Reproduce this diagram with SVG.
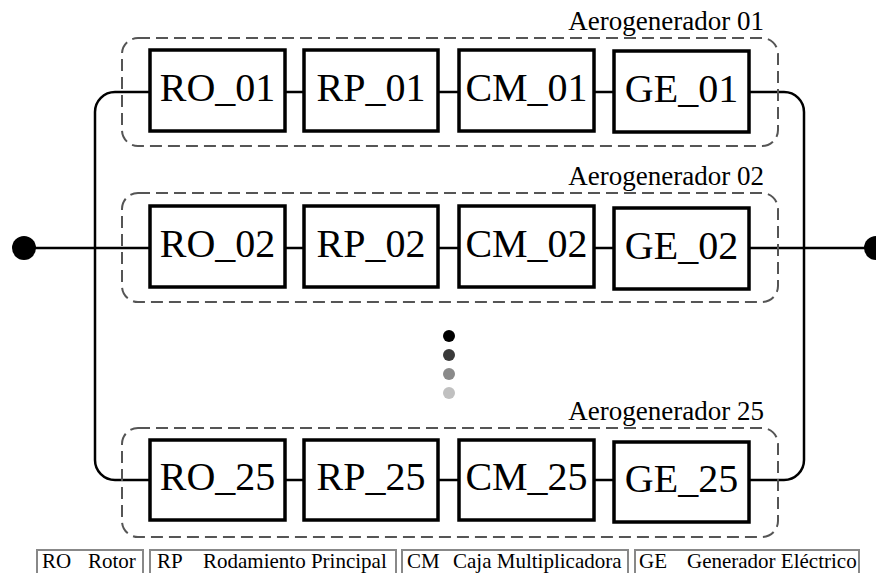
<svg xmlns="http://www.w3.org/2000/svg" width="876" height="573" viewBox="0 0 876 573">
<style>
.frame{fill:none;stroke:#555;stroke-width:2;stroke-dasharray:12 6}
.box{fill:#fff;stroke:#000;stroke-width:3.5}
.bt{font-family:'Liberation Serif','Times New Roman',serif;font-size:40px;text-anchor:middle;fill:#000}
.lab{font-family:'Liberation Serif','Times New Roman',serif;font-size:27px;text-anchor:end;fill:#000}
.wire{fill:none;stroke:#000;stroke-width:2.5}
.leg{fill:#fff;stroke:#888;stroke-width:2}
.lt{font-family:'Liberation Serif','Times New Roman',serif;font-size:21px;fill:#000}
</style>
<rect width="876" height="573" fill="#fff"/>
<g id="connectors">
<path class="wire" d="M24 248H150M749 248H875"/>
<path class="wire" d="M150 92H115A20 20 0 0 0 95 112V460A20 20 0 0 0 115 480H150"/>
<path class="wire" d="M749 92H784A20 20 0 0 1 804 112V460A20 20 0 0 1 784 480H749"/>
<path class="wire" d="M285 92H304M438 92H459M594 92H614M285 248H304M438 248H459M594 248H614M285 480H304M438 480H459M594 480H614"/>
<circle cx="24" cy="248" r="12" fill="#000"/>
<circle cx="876" cy="248" r="12" fill="#000"/>
</g>
<g id="wt01">
<rect class="frame" x="122" y="38" width="656" height="108" rx="16"/>
<text class="lab" x="764" y="30">Aerogenerador 01</text>
<g id="RO_01"><rect class="box" x="150" y="50" width="135" height="81"/><text class="bt" x="217.5" y="101">RO_01</text></g>
<g id="RP_01"><rect class="box" x="304" y="50" width="134" height="81"/><text class="bt" x="371" y="101">RP_01</text></g>
<g id="CM_01"><rect class="box" x="459" y="50" width="135" height="81"/><text class="bt" x="526.5" y="101">CM_01</text></g>
<g id="GE_01"><rect class="box" x="614" y="51" width="135" height="81"/><text class="bt" x="681.5" y="102">GE_01</text></g>
</g>
<g id="wt02">
<rect class="frame" x="122" y="193" width="656" height="109" rx="16"/>
<text class="lab" x="764" y="185">Aerogenerador 02</text>
<g id="RO_02"><rect class="box" x="150" y="206" width="135" height="81"/><text class="bt" x="217.5" y="257">RO_02</text></g>
<g id="RP_02"><rect class="box" x="304" y="206" width="134" height="81"/><text class="bt" x="371" y="257">RP_02</text></g>
<g id="CM_02"><rect class="box" x="459" y="206" width="135" height="81"/><text class="bt" x="526.5" y="257">CM_02</text></g>
<g id="GE_02"><rect class="box" x="614" y="208" width="135" height="81"/><text class="bt" x="681.5" y="259">GE_02</text></g>
</g>
<g id="dots">
<circle cx="449" cy="336" r="6" fill="#000"/>
<circle cx="449" cy="355" r="6" fill="#3a3a3a"/>
<circle cx="449" cy="374" r="6" fill="#8a8a8a"/>
<circle cx="449" cy="393" r="6" fill="#c0c0c0"/>
</g>
<g id="wt25">
<rect class="frame" x="122" y="428" width="656" height="109" rx="16"/>
<text class="lab" x="764" y="420">Aerogenerador 25</text>
<g id="RO_25"><rect class="box" x="150" y="440" width="135" height="80"/><text class="bt" x="217.5" y="490">RO_25</text></g>
<g id="RP_25"><rect class="box" x="304" y="440" width="134" height="80"/><text class="bt" x="371" y="490">RP_25</text></g>
<g id="CM_25"><rect class="box" x="459" y="440" width="135" height="80"/><text class="bt" x="526.5" y="490">CM_25</text></g>
<g id="GE_25"><rect class="box" x="614" y="442" width="135" height="80"/><text class="bt" x="681.5" y="492">GE_25</text></g>
</g>
<g id="legend">
<rect class="leg" x="37" y="550" width="106" height="30"/>
<text class="lt" x="42" y="568">RO</text><text class="lt" x="88" y="568">Rotor</text>
<rect class="leg" x="150" y="550" width="246" height="30"/>
<text class="lt" x="157" y="568">RP</text><text class="lt" x="203" y="568">Rodamiento Principal</text>
<rect class="leg" x="402" y="550" width="226" height="30"/>
<text class="lt" x="407" y="568">CM</text><text class="lt" x="453" y="568">Caja Multiplicadora</text>
<rect class="leg" x="635" y="550" width="224" height="30"/>
<text class="lt" x="639" y="568">GE</text><text class="lt" x="687" y="568">Generador Eléctrico</text>
</g>
</svg>
